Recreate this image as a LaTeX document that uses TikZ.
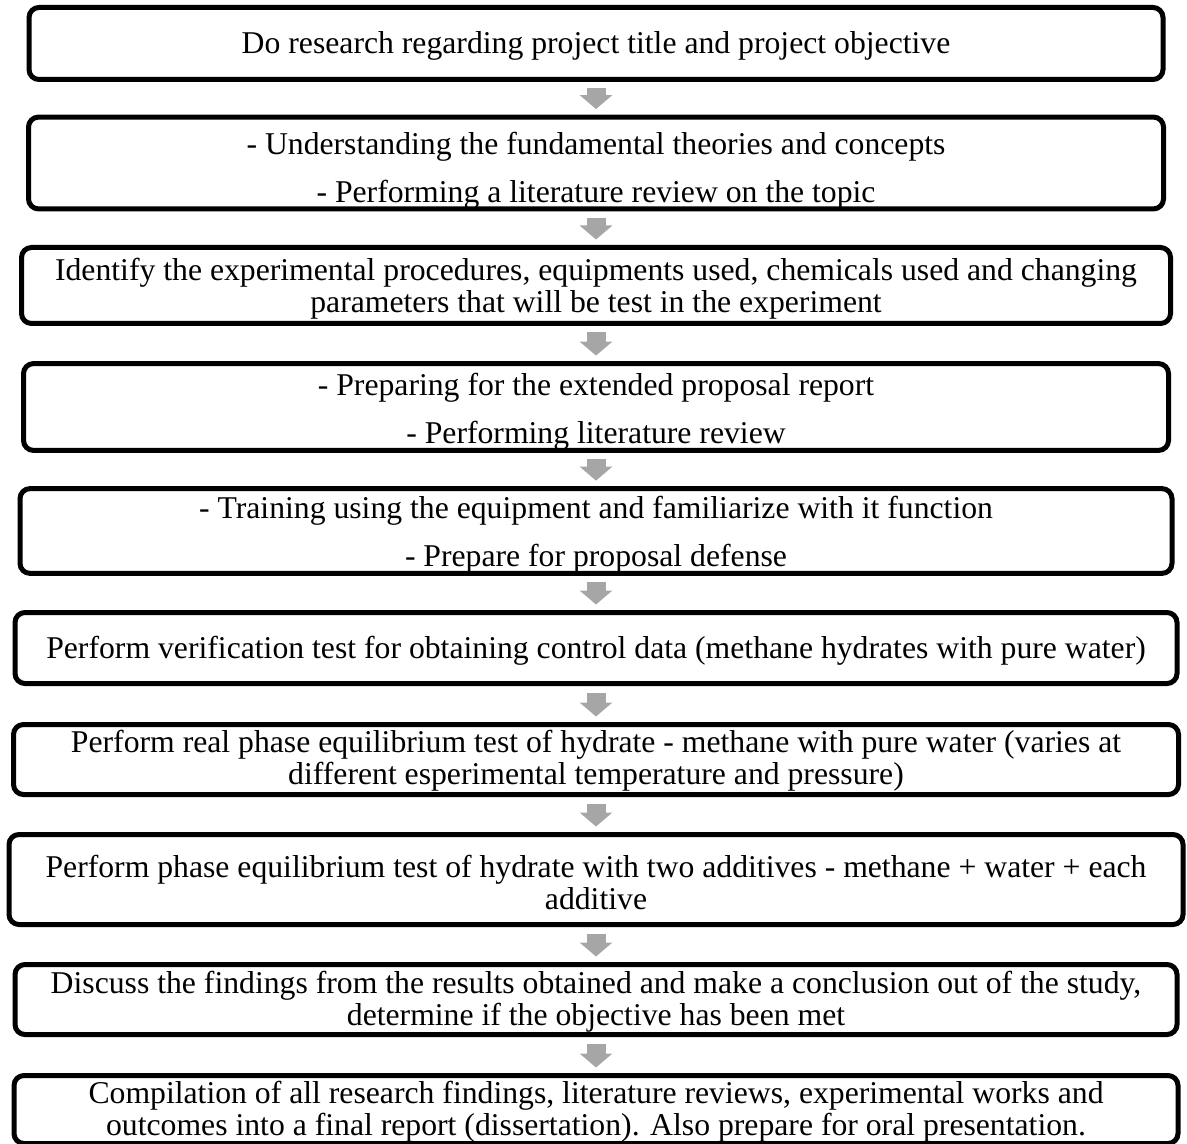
\documentclass[tikz,border=0pt]{standalone}
\usepackage{fontspec}
\setmainfont{Liberation Serif}
\usetikzlibrary{arrows.meta}

\definecolor{arrowgray}{RGB}{166,166,166}

% invisible strut that pushes the first line of a box down a little
\newcommand{\stagelift}[1]{\rule{0pt}{#1}}

\tikzset{
  stagebox/.style={draw, line width=2.5pt, rounded corners=5pt, align=center,
    inner sep=0pt, font=\fontsize{15.85}{16}\selectfont},
  widebox/.style={stagebox, font=\fontsize{15.85}{24}\selectfont},
  flowarrow/.style={arrowgray, line width=9.5pt, -{Triangle[width=16pt,length=7pt]},
    shorten <=3.25pt, shorten >=2.75pt}
}

\begin{document}
\begin{tikzpicture}[x=0.5pt, y=-0.5pt]
  % Fix the page to the size of the picture (units are pixels)
  \useasboundingbox (0,0) rectangle (1187,1144);

  % Stages of the work, top to bottom
  \node[stagebox, minimum width=567pt, minimum height=36pt] (research) at (596,43.5)
    {\stagelift{13.5pt}Do research regarding project title and project objective};
  \node[widebox, minimum width=567.5pt, minimum height=44.5pt] (theory) at (596,163)
    {\stagelift{18.5pt}- Understanding the fundamental theories and concepts\\- Performing a literature review on the topic};
  \node[stagebox, minimum width=574.5pt, minimum height=38pt] (procedure) at (596,285.5)
    {\stagelift{14pt}Identify the experimental procedures, equipments used, chemicals used and changing\\parameters that will be test in the experiment};
  \node[widebox, minimum width=572.5pt, minimum height=42.5pt] (proposal) at (596,407)
    {\stagelift{16pt}- Preparing for the extended proposal report\\- Performing literature review};
  \node[widebox, minimum width=576pt, minimum height=41.5pt] (training) at (596,531)
    {\stagelift{15pt}- Training using the equipment and familiarize with it function\\- Prepare for proposal defense};
  \node[stagebox, minimum width=581pt, minimum height=35.5pt] (verify) at (596,648)
    {\stagelift{14pt}Perform verification test for obtaining control data (methane hydrates with pure water)};
  \node[stagebox, minimum width=582.5pt, minimum height=35pt] (realtest) at (596,759.5)
    {\stagelift{12pt}Perform real phase equilibrium test of hydrate - methane with pure water (varies at\\different esperimental temperature and pressure)};
  \node[stagebox, minimum width=587pt, minimum height=45pt] (additive) at (596,879.5)
    {\stagelift{14pt}Perform phase equilibrium test of hydrate with two additives - methane + water + each\\additive};
  \node[stagebox, minimum width=581pt, minimum height=35pt] (discuss) at (596,999.5)
    {\stagelift{13pt}Discuss the findings from the results obtained and make a conclusion out of the study,\\determine if the objective has been met};
  \node[stagebox, minimum width=582pt, minimum height=34pt] (report) at (596,1109.5)
    {\stagelift{13pt}Compilation of all research findings, literature reviews, experimental works and\\outcomes into a final report (dissertation). Also prepare for oral presentation.};

  % Gray block arrows between the stages
  \draw[flowarrow] (research.south) -- (theory.north);
  \draw[flowarrow] (theory.south) -- (procedure.north);
  \draw[flowarrow] (procedure.south) -- (proposal.north);
  \draw[flowarrow] (proposal.south) -- (training.north);
  \draw[flowarrow] (training.south) -- (verify.north);
  \draw[flowarrow] (verify.south) -- (realtest.north);
  \draw[flowarrow] (realtest.south) -- (additive.north);
  \draw[flowarrow] (additive.south) -- (discuss.north);
  \draw[flowarrow] (discuss.south) -- (report.north);

\end{tikzpicture}
\end{document}
